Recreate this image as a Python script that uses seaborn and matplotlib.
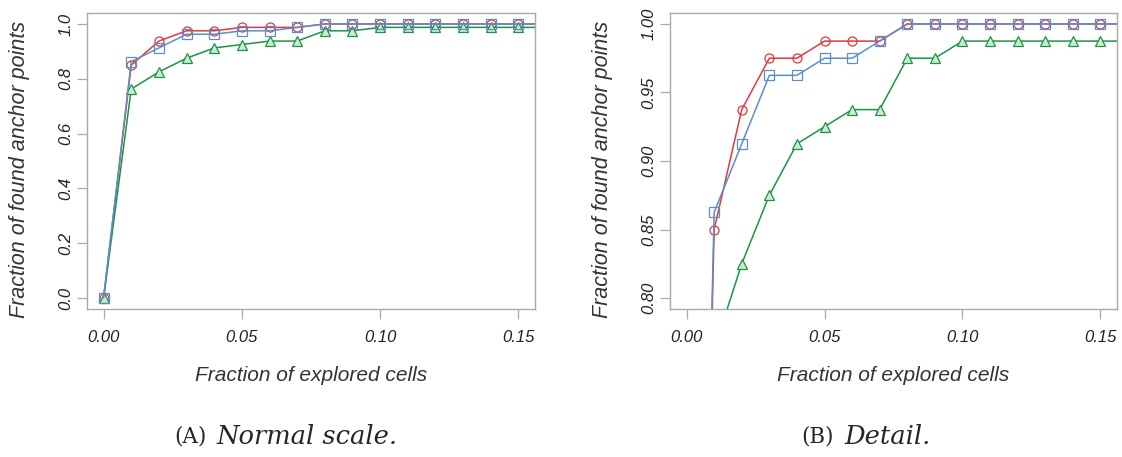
import numpy as np
import pandas as pd
import matplotlib
matplotlib.use("Agg")
import matplotlib.pyplot as plt
import seaborn as sns

# fracción de celdas exploradas (la última queda fuera del eje)
explored = [0.00, 0.01, 0.02, 0.03, 0.04, 0.05, 0.06, 0.07, 0.08,
            0.09, 0.10, 0.11, 0.12, 0.13, 0.14, 0.15, 0.16]
found_red = [0.0, 0.85, 0.9375, 0.975, 0.975, 0.9875, 0.9875, 0.9875, 1.0,
             1.0, 1.0, 1.0, 1.0, 1.0, 1.0, 1.0, 1.0]
found_blue = [0.0, 0.8625, 0.9125, 0.9625, 0.9625, 0.975, 0.975, 0.9875, 1.0,
              1.0, 1.0, 1.0, 1.0, 1.0, 1.0, 1.0, 1.0]
found_green = [0.0, 0.7625, 0.825, 0.875, 0.9125, 0.925, 0.9375, 0.9375, 0.975,
               0.975, 0.9875, 0.9875, 0.9875, 0.9875, 0.9875, 0.9875, 0.9875]

x_ticks = [0.00, 0.05, 0.10, 0.15]
y_ticks_a = [0.0, 0.2, 0.4, 0.6, 0.8, 1.0]
y_ticks_b = [0.80, 0.85, 0.90, 0.95, 1.00]

RED = "#E0393E"
BLUE = "#5B8FC9"
GREEN = "#1A9641"
GRAY = "#AAAAAA"

sns.set_theme(style="white")
plt.rcParams["font.family"] = ["Liberation Sans", "DejaVu Sans"]

fig = plt.figure(figsize=(11.22, 4.57), dpi=100)
ax_a = fig.add_axes([87 / 1122, 1 - 309 / 457, (535 - 87) / 1122, (309 - 13) / 457])
ax_b = fig.add_axes([670 / 1122, 1 - 309 / 457, (1117 - 670) / 1122, (309 - 13) / 457])


def draw(ax, yticks, ylim, yfmt):
    sns.lineplot(x=explored, y=found_red, ax=ax, color=RED, lw=1.1,
                 marker="o", markersize=6.5, markerfacecolor="none",
                 markeredgecolor=RED, markeredgewidth=0.9)
    sns.lineplot(x=explored, y=found_green, ax=ax, color=GREEN, lw=1.1,
                 marker="^", markersize=7.5, markerfacecolor="#CDEAD5",
                 markeredgecolor=GREEN, markeredgewidth=0.9)
    sns.lineplot(x=explored, y=found_blue, ax=ax, color=BLUE, lw=1.1,
                 marker="s", markersize=6.5, markerfacecolor="none",
                 markeredgecolor=BLUE, markeredgewidth=0.9)
    ax.set_xlim(-0.006, 0.156)
    ax.set_ylim(*ylim)
    ax.set_xticks(x_ticks)
    ax.set_xticklabels([f"{v:.2f}" for v in x_ticks], fontsize=12,
                       style="italic", color="#222222")
    ax.set_yticks(yticks)
    ax.set_yticklabels([yfmt.format(v) for v in yticks], fontsize=12,
                       style="italic", color="#222222", rotation=90, va="center")
    for s in ax.spines.values():
        s.set_color(GRAY)
        s.set_linewidth(1.0)
    ax.tick_params(axis="both", direction="out", length=7, width=0.9,
                   color=GRAY, left=True, bottom=True)
    ax.tick_params(axis="x", pad=8)
    ax.tick_params(axis="y", pad=3)
    ax.set_xlabel("Fraction of explored cells", fontsize=15, style="italic",
                  color="#333333")
    ax.set_ylabel("Fraction of found anchor points", fontsize=15.5,
                  style="italic", color="#333333")
    ax.xaxis.set_label_coords(0.5, -57 / 296)
    ax.yaxis.set_label_coords(-0.127, 0.47)


draw(ax_a, y_ticks_a, (-0.04, 1.04), "{:.1f}")
draw(ax_b, y_ticks_b, (0.792, 1.008), "{:.2f}")

# subtítulos
serif = ["DejaVu Serif"]
fig.text(207 / 1122, 1 - 437 / 457, "(A)", ha="right", va="center",
         fontsize=15.5, family=serif)
fig.text(217 / 1122, 1 - 437 / 457, "Normal scale.", ha="left", va="center",
         fontsize=18.5, style="italic", family=serif)
fig.text(834 / 1122, 1 - 437 / 457, "(B)", ha="right", va="center",
         fontsize=15.5, family=serif)
fig.text(844 / 1122, 1 - 437 / 457, "Detail.", ha="left", va="center",
         fontsize=18.5, style="italic", family=serif)

fig.savefig("out.png", dpi=100)
